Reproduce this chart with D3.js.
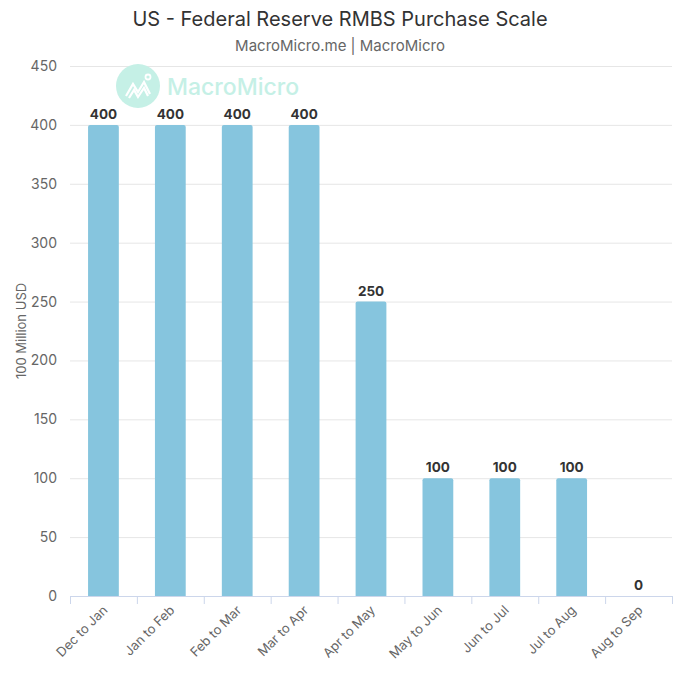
<!DOCTYPE html>
<html>
<head>
<meta charset="utf-8">
<script src="https://cdn.jsdelivr.net/npm/d3@7"></script>
<style>
  body { margin: 0; background: #fff; }
  text { font-family: "Inter", "Open Sans", sans-serif; }
</style>
</head>
<body>
<script>
// data
var categories = ['Dec to Jan', 'Jan to Feb', 'Feb to Mar', 'Mar to Apr', 'Apr to May',
                  'May to Jun', 'Jun to Jul', 'Jul to Aug', 'Aug to Sep'],
    values = [400, 400, 400, 400, 250, 100, 100, 100, 0],
    yTicks = [0, 50, 100, 150, 200, 250, 300, 350, 400, 450];

var width = 680,
    height = 680,
    plotLeft = 70,
    plotRight = 672,
    plotTop = 66,
    plotBottom = 596,
    svg;

var x = d3.scaleBand()
    .domain(categories)
    .range([plotLeft, plotRight])
    .paddingInner(0.54)
    .paddingOuter(0.27),
    y = d3.scaleLinear()
    .domain([0, 450])
    .range([plotBottom, plotTop]);

function init() {
    svg = d3.select('body')
        .append('svg')
        .attr('width', width)
        .attr('height', height);

    svg.append('text')
        .attr('x', width / 2)
        .attr('y', 26)
        .attr('text-anchor', 'middle')
        .attr('font-size', 20)
        .attr('fill', '#333')
        .text('US - Federal Reserve RMBS Purchase Scale');

    svg.append('text')
        .attr('x', width / 2)
        .attr('y', 51)
        .attr('text-anchor', 'middle')
        .attr('font-size', 15)
        .attr('fill', '#666')
        .text('MacroMicro.me | MacroMicro');
}

function grid() {
    svg.append('g')
        .selectAll('line')
        .data(yTicks.slice(1))
        .enter()
        .append('line')
        .attr('x1', plotLeft)
        .attr('x2', plotRight)
        .attr('y1', function (d) { return y(d) + 0.5; })
        .attr('y2', function (d) { return y(d) + 0.5; })
        .attr('stroke', '#e6e6e6');

    svg.append('g')
        .selectAll('text')
        .data(yTicks)
        .enter()
        .append('text')
        .attr('x', 57)
        .attr('y', function (d) { return y(d) + 5; })
        .attr('text-anchor', 'end')
        .attr('font-size', 14)
        .attr('fill', '#666')
        .text(function (d) { return d; });

    svg.append('text')
        .attr('transform', 'translate(26,' + ((plotTop + plotBottom) / 2) + ') rotate(-90)')
        .attr('text-anchor', 'middle')
        .attr('font-size', 13)
        .attr('fill', '#666')
        .text('100 Million USD');
}

function watermark() {
    var g = svg.append('g');
    g.append('circle')
        .attr('cx', 138)
        .attr('cy', 86)
        .attr('r', 22)
        .attr('fill', '#c5f0e6');
    g.append('path')
        .attr('d', 'M126,96 L133,84 L138,92 L144,82 L150,94 M129,98 L134,90 L138,97 L144,88 L148,96')
        .attr('fill', 'none')
        .attr('stroke', '#fff')
        .attr('stroke-width', 2.2);
    g.append('circle')
        .attr('cx', 148)
        .attr('cy', 77)
        .attr('r', 2.5)
        .attr('fill', 'none')
        .attr('stroke', '#fff')
        .attr('stroke-width', 1.8);
    g.append('text')
        .attr('x', 167)
        .attr('y', 95)
        .attr('font-size', 23)
        .attr('font-weight', 500)
        .attr('fill', '#c5f0e6')
        .text('MacroMicro');
}

function bars() {
    svg.selectAll('path.bar')
        .data(values)
        .enter()
        .append('path')
        .attr('class', 'bar')
        .attr('fill', '#86c5de')
        .attr('d', function (d, i) {
            var x0 = x(categories[i]), w = x.bandwidth(),
                y0 = y(d), h = plotBottom - y0, r = Math.min(2, h);
            if (h <= 0) return '';
            return 'M' + x0 + ',' + plotBottom +
                'V' + (y0 + r) +
                'Q' + x0 + ',' + y0 + ' ' + (x0 + r) + ',' + y0 +
                'H' + (x0 + w - r) +
                'Q' + (x0 + w) + ',' + y0 + ' ' + (x0 + w) + ',' + (y0 + r) +
                'V' + plotBottom + 'Z';
        });

    svg.selectAll('text.label')
        .data(values)
        .enter()
        .append('text')
        .attr('class', 'label')
        .attr('x', function (d, i) { return x(categories[i]) + x.bandwidth() / 2; })
        .attr('y', function (d) { return y(d) - 6; })
        .attr('text-anchor', 'middle')
        .attr('font-size', 13.5)
        .attr('font-weight', 'bold')
        .attr('fill', '#333')
        .text(function (d) { return d; });
}

function xAxis() {
    var ax = d3.axisBottom(x).tickSize(0).tickPadding(0);
    var g = svg.append('g')
        .attr('transform', 'translate(0,' + plotBottom + ')')
        .call(ax);
    g.select('.domain').attr('stroke', '#ccd6eb').attr('d', 'M' + plotLeft + ',0.5H' + plotRight);
    g.selectAll('.tick line').remove();
    g.selectAll('.tick text')
        .attr('font-family', null)
        .attr('font-size', 13)
        .attr('fill', '#666')
        .attr('text-anchor', 'end')
        .attr('dy', 0)
        .attr('transform', 'translate(5,15) rotate(-45)');

    // boundary tick marks between categories
    var bounds = d3.range(categories.length + 1).map(function (i) {
        return plotLeft + i * (plotRight - plotLeft) / categories.length;
    });
    g.selectAll('line.bound')
        .data(bounds)
        .enter()
        .append('line')
        .attr('class', 'bound')
        .attr('x1', function (d) { return d + 0.5; })
        .attr('x2', function (d) { return d + 0.5; })
        .attr('y1', 0)
        .attr('y2', 8)
        .attr('stroke', '#ccd6eb');
}

init();
grid();
watermark();
bars();
xAxis();
</script>
</body>
</html>
